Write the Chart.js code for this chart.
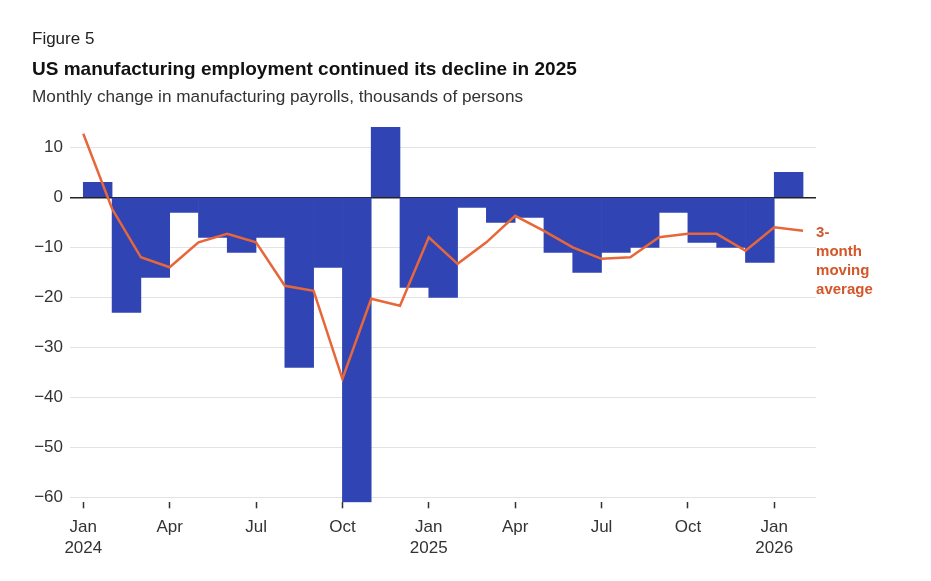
<!DOCTYPE html>
<html>
<head>
<meta charset="utf-8">
<script src="https://cdn.jsdelivr.net/npm/chart.js@4.4.1/dist/chart.umd.min.js"></script>
<style>
    html, body { margin: 0; padding: 0; background: #fff; }
    #wrap { position: relative; width: 931px; height: 581px; font-family: "Liberation Sans", Arial, sans-serif; color: #222; }
    #chart { position: absolute; left: 0; top: 0; }
    .hdr { position: absolute; left: 32px; white-space: nowrap; line-height: 1; }
    #fig { top: 29.6px; font-size: 17px; }
    #title { top: 59.3px; font-size: 19px; font-weight: bold; color: #111; }
    #sub { top: 88.1px; font-size: 17.2px; color: #333; }
</style>
</head>
<body>
<div id="wrap">
    <canvas id="chart" width="931" height="581"></canvas>
    <div class="hdr" id="fig">Figure 5</div>
    <div class="hdr" id="title">US manufacturing employment continued its decline in 2025</div>
    <div class="hdr" id="sub">Monthly change in manufacturing payrolls, thousands of persons</div>
</div>
<script>
// Monthly change, thousands (Jan 2024 .. Jan 2026)
const monthlyChange = [3, -23, -16, -3, -8, -11, -8, -34, -14, -61, 14, -18,
    -20, -2, -5, -4, -11, -15, -11, -10, -3, -9, -10, -13, 5];
// 3-month moving average (Jan 2024 .. Feb 2026)
const movingAverage = [12.7, -2.3, -12, -14, -9, -7.3, -9, -17.7, -18.7, -36.3, -20.3, -21.7,
    -8, -13.3, -9, -3.7, -6.7, -10, -12.3, -12, -8, -7.3, -7.3, -10.7, -6, -6.7];

const xTickMonths = [0, 3, 6, 9, 12, 15, 18, 21, 24];
const xTickLabels = [["Jan", "2024"], "Apr", "Jul", "Oct", ["Jan", "2025"], "Apr", "Jul", "Oct", ["Jan", "2026"]];
const yTickValues = [10, 0, -10, -20, -30, -40, -50, -60];
const yTickLabels = ["10", "0", "\u221210", "\u221220", "\u221230", "\u221240", "\u221250", "\u221260"];
const lineLabel = ["3-", "month", "moving", "average"];

const FONT = '"Liberation Sans", Arial, sans-serif';

// label at the end of the moving-average line
const endLabel = {
    id: "endLabel",
    afterDatasetsDraw(chart) {
        const pts = chart.getDatasetMeta(0).data;
        const last = pts[pts.length - 1];
        const ctx = chart.ctx;
        ctx.save();
        ctx.font = "bold 15px " + FONT;
        ctx.fillStyle = "#d4562a";
        ctx.textAlign = "left";
        ctx.textBaseline = "alphabetic";
        lineLabel.forEach((t, i) => ctx.fillText(t, last.x + 13, last.y + 6.5 + i * 19));
        ctx.restore();
    }
};

new Chart(document.getElementById("chart"), {
    data: {
        datasets: [{
            type: "line",
            label: "3-month moving average",
            data: movingAverage.map((v, i) => ({ x: i, y: v })),
            borderColor: "#e8673a",
            borderWidth: 2.5,
            pointRadius: 0,
            tension: 0,
            order: 0
        }, {
            type: "bar",
            label: "Monthly change",
            data: monthlyChange.map((v, i) => ({ x: i + 0.5, y: v })),
            backgroundColor: "#3045b3",
            borderWidth: 0,
            barPercentage: 1,
            categoryPercentage: 1,
            order: 1
        }]
    },
    options: {
        responsive: false,
        animation: false,
        layout: { padding: { top: 122.3, right: 115, left: 0, bottom: 0 } },
        plugins: {
            legend: { display: false },
            tooltip: { enabled: false }
        },
        scales: {
            x: {
                type: "linear",
                offset: false,
                min: -0.462,
                max: 25.45,
                afterBuildTicks: s => { s.ticks = xTickMonths.map(v => ({ value: v })); },
                afterFit: s => { s.height = 581 - 502.3; },
                ticks: {
                    callback: (v, i) => xTickLabels[i],
                    autoSkip: false,
                    maxRotation: 0,
                    color: "#333",
                    padding: 9,
                    font: { family: FONT, size: 17, lineHeight: 1.2 }
                },
                grid: { offset: false, drawOnChartArea: false, drawTicks: true, tickLength: 6, tickColor: "#333", tickWidth: 1.5 },
                border: { display: false }
            },
            y: {
                min: -61,
                max: 15,
                afterBuildTicks: s => { s.ticks = yTickValues.map(v => ({ value: v })); },
                afterFit: s => { s.width = 70; },
                ticks: {
                    callback: (v, i) => yTickLabels[i],
                    color: "#333",
                    padding: 7,
                    font: { family: FONT, size: 17 }
                },
                grid: {
                    drawTicks: false,
                    color: c => c.tick && c.tick.value === 0 ? "#222" : "#e3e3e3",
                    lineWidth: c => c.tick && c.tick.value === 0 ? 1.5 : 1
                },
                border: { display: false }
            }
        }
    },
    plugins: [endLabel]
});
</script>
</body>
</html>
